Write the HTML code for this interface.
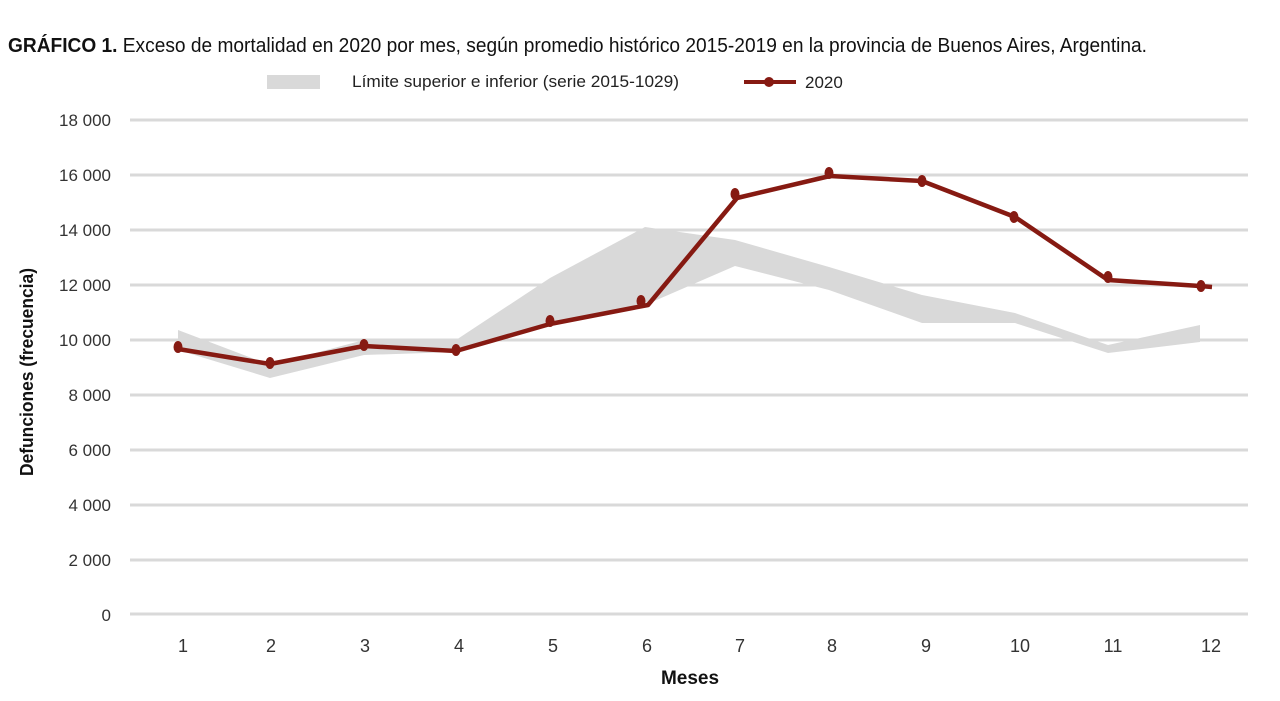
<!DOCTYPE html>
<html><head><meta charset="utf-8"><style>
body{margin:0;background:#fff;width:1280px;height:696px;overflow:hidden;font-family:"Liberation Sans",sans-serif;}
</style></head><body>
<svg width="1280" height="696" xmlns="http://www.w3.org/2000/svg" style="font-family:'Liberation Sans',sans-serif">
<text x="8" y="52" font-size="20" fill="#111" textLength="1139" lengthAdjust="spacingAndGlyphs"><tspan font-weight="bold">GRÁFICO 1.</tspan> Exceso de mortalidad en 2020 por mes, según promedio histórico 2015-2019 en la provincia de Buenos Aires, Argentina.</text>
<rect x="267" y="75" width="53" height="14" fill="#d9d9d9"/>
<text x="352" y="87" font-size="17" fill="#222" textLength="327" lengthAdjust="spacingAndGlyphs">Límite superior e inferior (serie 2015-1029)</text>
<line x1="744" y1="82" x2="796" y2="82" stroke="#861a12" stroke-width="4"/>
<circle cx="769" cy="82" r="5" fill="#861a12"/>
<text x="805" y="88" font-size="17" fill="#222">2020</text>
<g stroke="#d9d9d9" stroke-width="3">
<line x1="130" y1="120" x2="1248" y2="120"/><line x1="130" y1="175" x2="1248" y2="175"/><line x1="130" y1="230" x2="1248" y2="230"/><line x1="130" y1="285" x2="1248" y2="285"/><line x1="130" y1="340" x2="1248" y2="340"/><line x1="130" y1="395" x2="1248" y2="395"/><line x1="130" y1="450" x2="1248" y2="450"/><line x1="130" y1="505" x2="1248" y2="505"/><line x1="130" y1="560" x2="1248" y2="560"/><line x1="130" y1="614" x2="1248" y2="614"/>
</g>
<g font-size="17" fill="#333" text-anchor="end">
<text x="111" y="126">18 000</text><text x="111" y="181">16 000</text><text x="111" y="236">14 000</text><text x="111" y="291">12 000</text><text x="111" y="346">10 000</text><text x="111" y="401">8 000</text><text x="111" y="456">6 000</text><text x="111" y="511">4 000</text><text x="111" y="566">2 000</text><text x="111" y="621">0</text>
</g>
<g font-size="18" fill="#333" text-anchor="middle">
<text x="183" y="652">1</text><text x="271" y="652">2</text><text x="365" y="652">3</text><text x="459" y="652">4</text><text x="553" y="652">5</text><text x="647" y="652">6</text><text x="740" y="652">7</text><text x="832" y="652">8</text><text x="926" y="652">9</text><text x="1020" y="652">10</text><text x="1113" y="652">11</text><text x="1211" y="652">12</text>
</g>
<text x="690" y="684" font-size="19" font-weight="bold" fill="#111" text-anchor="middle">Meses</text>
<text transform="translate(33,372) rotate(-90)" font-size="18" font-weight="bold" fill="#111" text-anchor="middle" textLength="208" lengthAdjust="spacingAndGlyphs">Defunciones (frecuencia)</text>
<polygon fill="#d9d9d9" points="178,330 270,365 364,340 456,340 550,278 645,227 735,240 829,267 922,295 1015,313 1108,345 1200,325 1200,342 1108,353 1015,323 922,323 829,290 735,266 645,305 550,323 456,352 364,355 270,378 178,350"/>
<polyline fill="none" stroke="#861a12" stroke-width="4.5" stroke-linejoin="round" points="178,349 270,364 364,346 456,351 550,324 648,305 737,198 830,176 922,181 1015,217 1108,280 1200,286 1212,287"/>
<g fill="#861a12">
<ellipse cx="178" cy="347" rx="4.5" ry="6"/><ellipse cx="270" cy="363" rx="4.5" ry="6"/><ellipse cx="364" cy="345" rx="4.5" ry="6"/><ellipse cx="456" cy="350" rx="4.5" ry="6"/><ellipse cx="550" cy="321" rx="4.5" ry="6"/><ellipse cx="641" cy="301" rx="4.5" ry="6"/><ellipse cx="735" cy="194" rx="4.5" ry="6"/><ellipse cx="829" cy="173" rx="4.5" ry="6"/><ellipse cx="922" cy="181" rx="4.5" ry="6"/><ellipse cx="1014" cy="217" rx="4.5" ry="6"/><ellipse cx="1108" cy="277" rx="4.5" ry="6"/><ellipse cx="1201" cy="286" rx="4.5" ry="6"/>
</g>
</svg>
</body></html>
